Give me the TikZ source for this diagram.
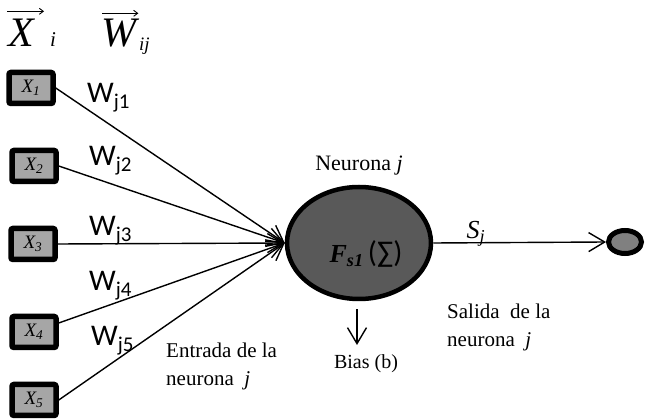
\documentclass[tikz,border=0pt]{standalone}
\usepackage{fontspec}
\setmainfont{Liberation Serif}
\newfontfamily\calib{Carlito}
\usetikzlibrary{arrows.meta,positioning,shapes.geometric,calc}
\definecolor{inbox}{HTML}{A6A6A6}
\definecolor{soma}{HTML}{595959}
\definecolor{outcell}{HTML}{808080}

\tikzset{
  inputbox/.style={draw, line width=5.5pt, fill=inbox, rounded corners=2pt, minimum width=44pt, minimum height=31pt, inner sep=0pt, font=\fontsize{19}{19}\selectfont\itshape},
  wire/.style={line width=1.4pt, -{Straight Barb[length=16pt,width=19pt,line width=1.4pt]}},
  vecarrow/.style={line width=0.9pt, -{Straight Barb[length=4pt,width=6pt,line width=0.9pt]}},
  wlabel/.style={anchor=base west, inner sep=0pt, font=\fontsize{30}{30}\selectfont\calib},
  bigletter/.style={anchor=base west, inner sep=0pt, font=\fontsize{42}{42}\selectfont\itshape},
  txt/.style={inner sep=0pt, align=left, font=\fontsize{21}{28}\selectfont},
}

\begin{document}
\begin{tikzpicture}[x=1pt,y=-1pt]
  \useasboundingbox (0,0) rectangle (646,419);
  % vectores de entrada y pesos
  \node[bigletter] (xvec) at (8,47) {X};
  \node[anchor=base west, inner sep=0pt, font=\fontsize{21}{21}\selectfont\itshape] (xsub) at (50,47) {i};
  \draw[vecarrow] ([xshift=-1pt,yshift=8pt]xvec.north west) -- ([xshift=10pt,yshift=8pt]xvec.north east);
  \node[bigletter] (wvec) at (101,47) {W};
  \node[anchor=base west, inner sep=0pt, font=\fontsize{19}{19}\selectfont\itshape] (wsub) at (139,51) {ij};
  \draw[vecarrow] ([xshift=1pt,yshift=6pt]wvec.north west) -- ([xshift=2pt,yshift=6pt]wvec.north east);

  % entradas
  \foreach \n/\x/\y in {1/31/88, 2/34/166, 3/33/244, 4/34/332, 5/34/400}
    \node[inputbox] (x\n) at (\x,\y) {\raisebox{-4pt}{X\textsubscript{\n}}};

  % neurona
  \node[ellipse, draw, line width=4.5pt, fill=soma, minimum width=144pt, minimum height=112pt] (neurona) at (359,243) {};
  \node[inner sep=0pt] (fs) at (366,254) {\fontsize{26}{26}\selectfont\textbf{\textit{F\textsubscript{s1}}}\,{\calib\fontsize{30}{30}\selectfont(∑)}};
  \node[txt, above=9pt of neurona, font=\fontsize{22}{22}\selectfont] (nombre) {Neurona \textit{j}};

  % conexiones
  \foreach \n/\a in {1/east, 2/east, 3/east, 4/20, 5/east}
    \draw[wire] (x\n.\a) -- (neurona.west);

  % pesos
  \node[wlabel] (w1) at (87,103) {W\textsubscript{j1}};
  \node[wlabel] (w2) at (89,166) {W\textsubscript{j2}};
  \node[wlabel] (w3) at (89,236) {W\textsubscript{j3}};
  \node[wlabel] (w4) at (89,291) {W\textsubscript{j4}};
  \node[wlabel] (w5) at (91,346) {W\textsubscript{j5}};

  % salida
  \node[ellipse, draw, line width=5pt, fill=outcell, minimum width=33pt, minimum height=23pt] (salida) at (625,242) {};
  \draw[wire] (neurona.east) -- (salida.west);
  \node[inner sep=0pt, font=\fontsize{26}{26}\selectfont] (sj) at (476,234) {\textit{S\textsubscript{j}}};

  % bias
  \coordinate (biasend) at (357,345);
  \draw[wire, shorten <=8pt] (neurona.south -| biasend) -- (biasend);
  \node[txt, font=\fontsize{20}{20}\selectfont] (bias) at (366,364) {Bias (b)};

  % textos
  \node[txt, anchor=north west] (entrada) at (166,343) {Entrada de la\\neurona\ \ \textit{j}};
  \node[txt, anchor=north west] (salidatxt) at (447,304) {Salida\ \ de la\\neurona\ \ \textit{j}};
\end{tikzpicture}
\end{document}
